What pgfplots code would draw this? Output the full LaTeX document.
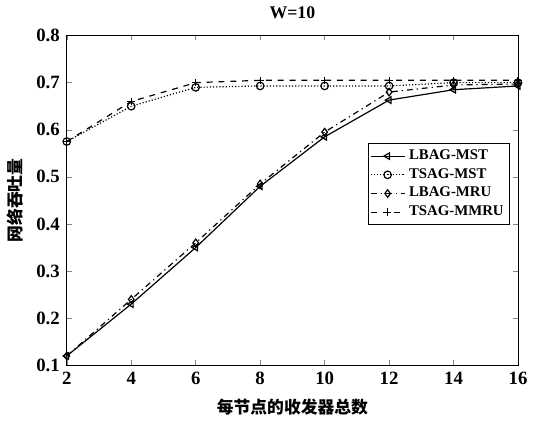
\documentclass[border=0pt]{standalone}
\usepackage{fontspec}
\setmainfont{Liberation Serif}
\newfontfamily\cjk{Noto Sans CJK SC}
\usepackage{pgfplots}
\pgfplotsset{compat=1.18}

\begin{document}
\begin{tikzpicture}
\begin{axis}[
  scale only axis,
  width=228.5pt, height=167pt,
  xmin=2, xmax=16, ymin=0.1, ymax=0.8,
  xtick={2,4,...,16}, ytick={0.1,0.2,...,0.8},
  yticklabel style={/pgf/number format/fixed,/pgf/number format/precision=1,/pgf/number format/fixed zerofill},
  /pgf/number format/assume math mode=true,
  tick label style={font=\bfseries\fontsize{9.5}{10}\selectfont},
  tick align=inside, tick pos=both, major tick length=2.5pt,
  title={\bfseries W=10}, title style={font=\fontsize{9}{10}\selectfont, yshift=-1pt},
  xlabel={\cjk\bfseries 每节点的收发器总数},
  ylabel={\cjk\bfseries 网络吞吐量},
  label style={font=\fontsize{8.5}{10}\selectfont},
  legend style={at={(axis cs:15.75,0.571)}, anchor=north east, font=\bfseries\fontsize{7.5}{8}\selectfont,
    inner sep=1pt, row sep=-1pt, draw=black, cells={anchor=west}},
  legend cell align=left,
  every axis plot/.append style={black, line width=0.6pt, mark size=1.9pt},
]
\addplot[solid, mark=triangle, mark options={rotate=90,solid}] coordinates {
  (2,0.12)(4,0.23)(6,0.35)(8,0.48)(10,0.585)(12,0.663)(14,0.685)(16,0.693)};
\addlegendentry{LBAG-MST}
\addplot[densely dotted, mark=o, mark options={solid}] coordinates {
  (2,0.575)(4,0.65)(6,0.69)(8,0.693)(10,0.693)(12,0.693)(14,0.70)(16,0.70)};
\addlegendentry{TSAG-MST}
\addplot[dashdotted, mark=diamond, mark options={solid}] coordinates {
  (2,0.12)(4,0.24)(6,0.36)(8,0.485)(10,0.595)(12,0.68)(14,0.695)(16,0.697)};
\addlegendentry{LBAG-MRU}
\addplot[dashed, mark=+, mark options={solid}] coordinates {
  (2,0.575)(4,0.66)(6,0.70)(8,0.705)(10,0.705)(12,0.705)(14,0.705)(16,0.705)};
\addlegendentry{TSAG-MMRU}
\end{axis}
\end{tikzpicture}
\end{document}
